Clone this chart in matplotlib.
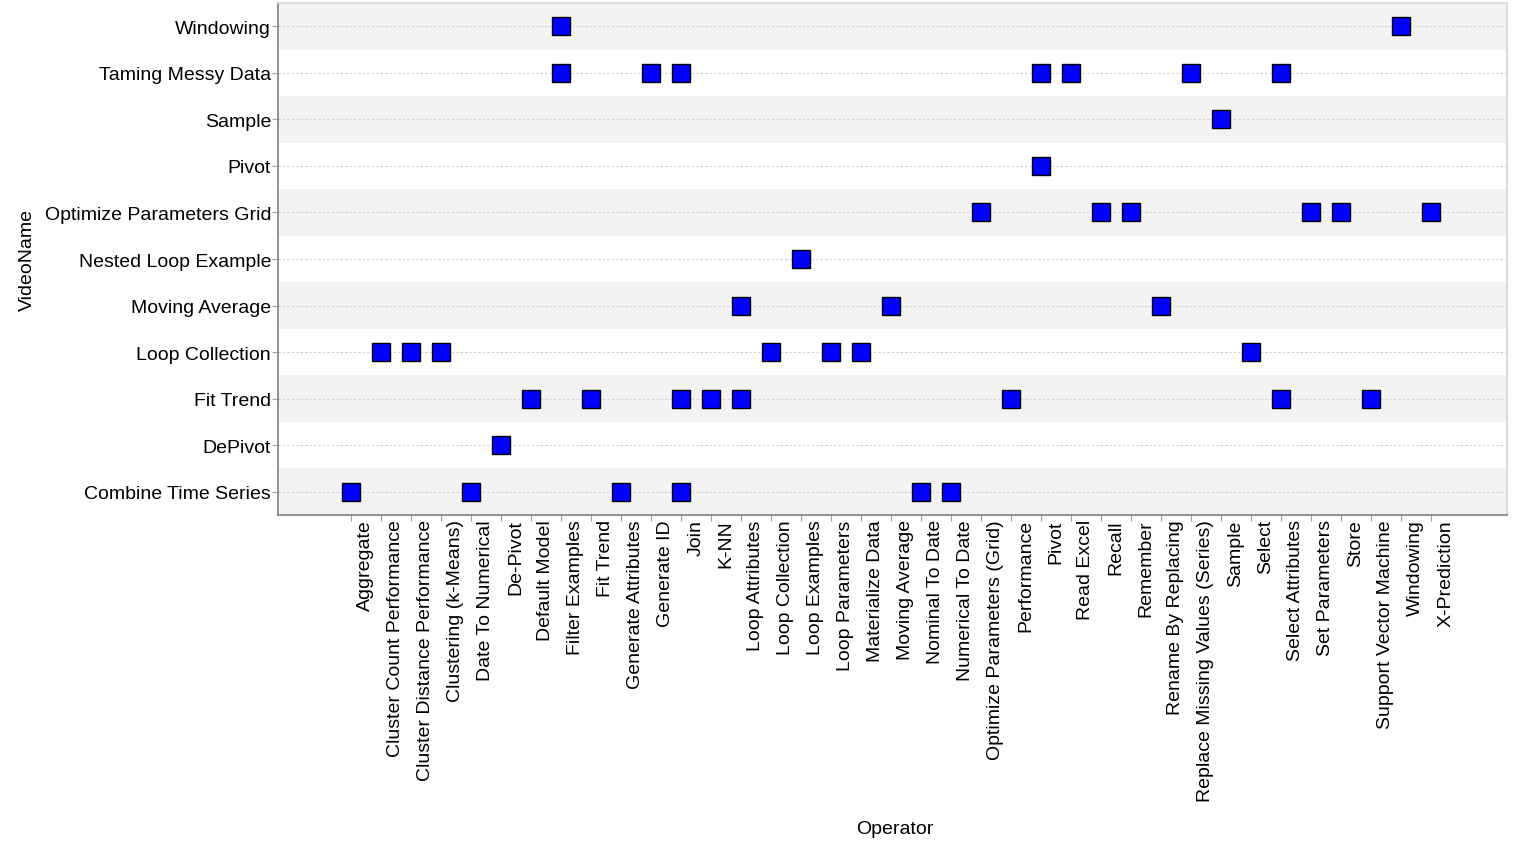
import matplotlib.pyplot as plt

plt.rcParams['font.family'] = ['Liberation Sans', 'DejaVu Sans']

# Categorías del eje x (operadores)
operators = [
    "Aggregate", "Cluster Count Performance", "Cluster Distance Performance",
    "Clustering (k-Means)", "Date To Numerical", "De-Pivot", "Default Model",
    "Filter Examples", "Fit Trend", "Generate Attributes", "Generate ID", "Join",
    "K-NN", "Loop Attributes", "Loop Collection", "Loop Examples",
    "Loop Parameters", "Materialize Data", "Moving Average", "Nominal To Date",
    "Numerical To Date", "Optimize Parameters (Grid)", "Performance", "Pivot",
    "Read Excel", "Recall", "Remember", "Rename By Replacing",
    "Replace Missing Values (Series)", "Sample", "Select", "Select Attributes",
    "Set Parameters", "Store", "Support Vector Machine", "Windowing",
    "X-Prediction",
]

# Categorías del eje y (videos), de abajo hacia arriba
videos = [
    "Combine Time Series", "DePivot", "Fit Trend", "Loop Collection",
    "Moving Average", "Nested Loop Example", "Optimize Parameters Grid",
    "Pivot", "Sample", "Taming Messy Data", "Windowing",
]

# Operadores usados por cada video
combine_time_series = ["Aggregate", "Date To Numerical", "Generate Attributes",
                       "Join", "Nominal To Date", "Numerical To Date"]
depivot = ["De-Pivot"]
fit_trend = ["Default Model", "Fit Trend", "Join", "K-NN", "Loop Attributes",
             "Performance", "Select Attributes", "Support Vector Machine"]
loop_collection = ["Cluster Count Performance", "Cluster Distance Performance",
                   "Clustering (k-Means)", "Loop Collection", "Loop Parameters",
                   "Materialize Data", "Select"]
moving_average = ["Loop Attributes", "Moving Average", "Rename By Replacing"]
nested_loop = ["Loop Examples"]
optimize_grid = ["Optimize Parameters (Grid)", "Recall", "Remember",
                 "Set Parameters", "Store", "X-Prediction"]
pivot = ["Pivot"]
sample = ["Sample"]
taming_messy = ["Filter Examples", "Generate ID", "Join", "Pivot", "Read Excel",
                "Replace Missing Values (Series)", "Select Attributes"]
windowing = ["Filter Examples", "Windowing"]

usage = [combine_time_series, depivot, fit_trend, loop_collection,
         moving_average, nested_loop, optimize_grid, pivot, sample,
         taming_messy, windowing]

fig = plt.figure(figsize=(15.15, 8.45), dpi=100)
ax = fig.add_axes([0.1835, 0.3893, 0.9947 - 0.1835, 0.9953 - 0.3893])

# Bandas alternadas
for k in range(len(videos)):
    if k % 2 == 0:
        ax.axhspan(k - 0.5, k + 0.5, color="#f3f3f3", zorder=0, lw=0)
    ax.axhline(k, color="#d0d0d0", lw=0.8, ls=(0, (2, 2)), zorder=1)

xs, ys = [], []
for k, ops in enumerate(usage):
    for op in ops:
        xs.append(operators.index(op))
        ys.append(k)
ax.plot(xs, ys, "s", color="#0000ff", markeredgecolor="black",
        markeredgewidth=1.0, markersize=13.5, zorder=3, clip_on=False)

ax.set_xlim(-2.43, len(operators) - 1 + 2.54)
ax.set_ylim(-0.5, len(videos) - 0.5)

ax.set_yticks(range(len(videos)))
ax.set_yticklabels(videos, fontsize=14)

# Marcas en las categorías, etiquetas desplazadas media categoría
ax.set_xticks(range(len(operators)))
ax.set_xticklabels([])
ax.set_xticks([i + 0.5 for i in range(len(operators))], minor=True)
ax.set_xticklabels(operators, minor=True, rotation=90, fontsize=14)
ax.tick_params(axis="x", which="minor", length=0, pad=3)

ax.tick_params(axis="both", which="major", colors="#a0a0a0", length=4,
               width=0.8, labelcolor="black")
ax.tick_params(axis="y", pad=1)

for side in ["left", "bottom"]:
    ax.spines[side].set_color("#808080")
    ax.spines[side].set_linewidth(1.2)
for side in ["top", "right"]:
    ax.spines[side].set_color("#d6d6d6")
    ax.spines[side].set_linewidth(1.2)

ax.set_xlabel("Operator", fontsize=14)
ax.set_ylabel("VideoName", fontsize=14)
ax.xaxis.set_label_coords(0.502, -0.595)
ax.yaxis.set_label_coords(-0.197, 0.5)

fig.savefig("out.png", dpi=100)
